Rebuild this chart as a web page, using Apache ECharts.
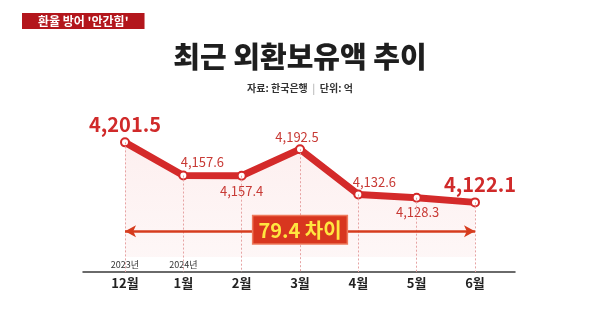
<!DOCTYPE html>
<html>
<head>
<meta charset="utf-8">
<script src="https://cdn.jsdelivr.net/npm/echarts@6/dist/echarts.min.js"></script>
<style>
  html, body { margin: 0; padding: 0; background: #ffffff; }
  #chart { width: 600px; height: 334px; }
</style>
</head>
<body>
<div id="chart"></div>
<script>
// 외환보유액 (단위: 억 달러) — 2023년 12월 ~ 2024년 6월
const months = ['12월', '1월', '2월', '3월', '4월', '5월', '6월'];
const years = ['2023년', '2024년', '', '', '', '', ''];
const reserves = [4201.5, 4157.6, 4157.4, 4192.5, 4132.6, 4128.3, 4122.1];

// value label placement per point (layout only)
const labelPlace = [
  { pos: 'top', big: true, off: [0, 2] },
  { pos: 'top', big: false, off: [19, 3] },
  { pos: 'bottom', big: false, off: [0, -1] },
  { pos: 'top', big: false, off: [-3, 4] },
  { pos: 'top', big: false, off: [16, 4] },
  { pos: 'bottom', big: false, off: [1, -2] },
  { pos: 'top', big: true, off: [5, 2] }
];

const Y_MIN = 4030, Y_MAX = 4250;
const FILL_BASE = 4050;      // lower edge of the shaded area
const ARROW_Y = 4084;        // height of the gap arrow

const RED = '#d42a2a';
const FONT = '"Noto Sans CJK KR", "Noto Sans", sans-serif';
const fmt = v => v.toLocaleString('en-US', { minimumFractionDigits: 1, maximumFractionDigits: 1 });

const diff = (Math.max(...reserves) - reserves[reserves.length - 1]).toFixed(1);

const lineData = reserves.map((v, i) => {
  const p = labelPlace[i];
  return {
    value: v,
    label: {
      show: true,
      position: p.pos,
      offset: p.off,
      formatter: () => fmt(v),
      color: p.big ? '#d02a2a' : '#c83a35',
      fontSize: p.big ? 20 : 13,
      fontWeight: p.big ? 'bold' : 'normal',
      fontFamily: FONT
    }
  };
});

const dropLines = reserves.map((v, i) => [
  { coord: [months[i], v] },
  { coord: [months[i], Y_MIN] }
]);

const chart = echarts.init(document.getElementById('chart'), null, { renderer: 'canvas' });
chart.setOption({
  backgroundColor: '#ffffff',
  animation: false,
  title: [
    {
      text: "환율 방어 '안간힘'",
      left: 22, top: 13,
      backgroundColor: '#b3161c',
      padding: [2, 16, 1, 16],
      textStyle: { color: '#ffffff', fontSize: 12, fontWeight: 'bold', fontFamily: FONT, lineHeight: 13 }
    },
    {
      text: '최근 외환보유액 추이',
      left: 'center', top: 37,
      textStyle: { color: '#1e1e1e', fontSize: 29, fontWeight: 900, fontFamily: FONT }
    },
    {
      text: '자료: 한국은행  {s||}  단위: 억',
      left: 'center', top: 78,
      textStyle: {
        color: '#333333', fontSize: 10, fontFamily: FONT,
        rich: { s: { color: '#bbbbbb', fontSize: 10 } }
      }
    }
  ],
  grid: [
    { left: 125, right: 125, top: 105.7, bottom: 62 },
    { left: 83, right: 85, top: 271, bottom: 62 }
  ],
  xAxis: [
    {
      gridIndex: 0,
      type: 'category',
      boundaryGap: false,
      data: months,
      axisLine: { show: false },
      axisTick: { show: false },
      splitLine: { show: false },
      axisLabel: {
        margin: -14,
        interval: 0,
        formatter: (val, idx) => '{y|' + (years[idx] || ' ') + '}\n{m|' + val + '}',
        rich: {
          y: { fontSize: 9, color: '#333333', lineHeight: 14, fontFamily: FONT },
          m: { fontSize: 13, color: '#222222', lineHeight: 22, fontWeight: 'bold', fontFamily: FONT }
        }
      }
    },
    {
      gridIndex: 1,
      type: 'value',
      min: 0, max: 1,
      axisLine: { show: true, onZero: false, lineStyle: { color: '#3a3a3a', width: 1.5 } },
      axisTick: { show: false },
      axisLabel: { show: false },
      splitLine: { show: false }
    }
  ],
  yAxis: [
    { gridIndex: 0, type: 'value', min: Y_MIN, max: Y_MAX, show: false },
    { gridIndex: 1, type: 'value', min: 0, max: 1, show: false }
  ],
  series: [
    {
      // dotted drop lines from each point
      type: 'line',
      data: [],
      z: 1,
      markLine: {
        silent: true,
        symbol: ['none', 'none'],
        label: { show: false },
        lineStyle: { color: '#e6a3a3', width: 1, type: [2, 2] },
        data: dropLines
      }
    },
    {
      type: 'line',
      data: lineData,
      z: 3,
      symbol: 'circle',
      symbolSize: 8,
      itemStyle: { color: '#ffffff', borderColor: RED, borderWidth: 2 },
      lineStyle: { color: RED, width: 7, cap: 'round', join: 'round' },
      areaStyle: {
        origin: FILL_BASE,
        color: new echarts.graphic.LinearGradient(0, 0, 0, 1, [
          { offset: 0, color: 'rgba(244,170,170,0.26)' },
          { offset: 1, color: 'rgba(244,170,170,0.14)' }
        ])
      }
    },
    {
      // gap arrow between first and last month
      type: 'line',
      data: [],
      z: 5,
      markLine: {
        silent: true,
        symbol: ['arrow', 'arrow'],
        symbolSize: [9, 11],
        lineStyle: { color: '#d63c1e', width: 2.5, type: 'solid' },
        label: {
          show: true,
          position: 'middle',
          offset: [0, 17],
          formatter: () => diff + ' 차이',
          color: '#ffe640',
          fontSize: 20,
          fontWeight: 'bold',
          fontFamily: FONT,
          backgroundColor: '#d8361f',
          borderColor: '#ee7a5c',
          borderWidth: 1.5,
          padding: [4, 5, 3, 5]
        },
        data: [[{ coord: [months[0], ARROW_Y] }, { coord: [months[months.length - 1], ARROW_Y] }]]
      }
    }
  ]
});
</script>
</body>
</html>
